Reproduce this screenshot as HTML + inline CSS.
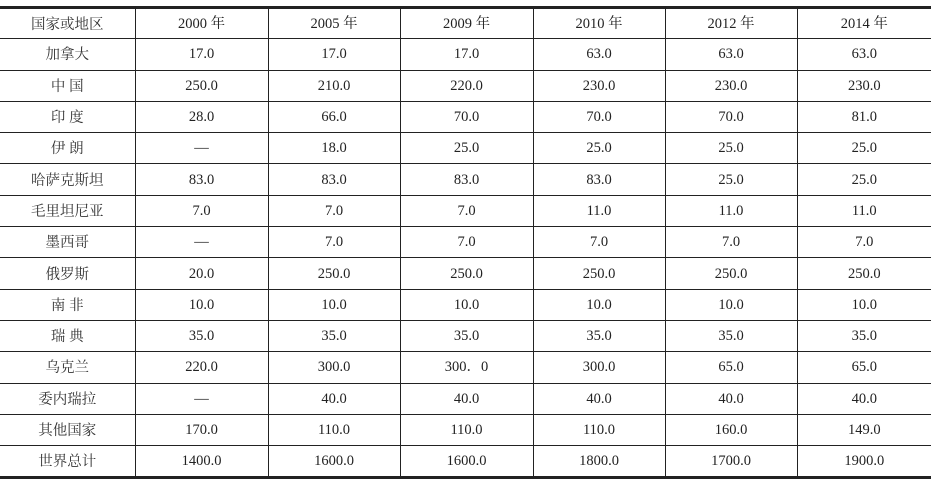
<!DOCTYPE html>
<html><head><meta charset="utf-8"><style>
html,body{margin:0;padding:0;background:#fff;width:931px;height:481px;overflow:hidden}
table{position:absolute;left:0;top:6px;width:931px;border-collapse:collapse;table-layout:fixed;
font-family:"Liberation Serif","Noto Serif CJK SC",serif;font-size:14.5px;color:#222}
td{height:30.3px;border:1px solid #222;text-align:center;padding:0;line-height:14px}
tr:first-child td{border-top:3px solid #222;height:29.3px}
tr:last-child td{border-bottom:3px solid #222}
td:first-child{border-left:none}
td:last-child{border-right:none}
.c{font-family:"Noto Serif CJK SC",serif;font-size:14.5px;color:#333}
</style></head><body>
<table>
<colgroup><col style="width:135px"><col style="width:133px"><col style="width:132px"><col style="width:133px"><col style="width:132px"><col style="width:132px"><col></colgroup>
<tr><td class="c">国家或地区</td><td>2000 年</td><td>2005 年</td><td>2009 年</td><td>2010 年</td><td>2012 年</td><td>2014 年</td></tr>
<tr><td class="c">加拿大</td><td>17.0</td><td>17.0</td><td>17.0</td><td>63.0</td><td>63.0</td><td>63.0</td></tr>
<tr><td class="c">中 国</td><td>250.0</td><td>210.0</td><td>220.0</td><td>230.0</td><td>230.0</td><td>230.0</td></tr>
<tr><td class="c">印 度</td><td>28.0</td><td>66.0</td><td>70.0</td><td>70.0</td><td>70.0</td><td>81.0</td></tr>
<tr><td class="c">伊 朗</td><td>—</td><td>18.0</td><td>25.0</td><td>25.0</td><td>25.0</td><td>25.0</td></tr>
<tr><td class="c">哈萨克斯坦</td><td>83.0</td><td>83.0</td><td>83.0</td><td>83.0</td><td>25.0</td><td>25.0</td></tr>
<tr><td class="c">毛里坦尼亚</td><td>7.0</td><td>7.0</td><td>7.0</td><td>11.0</td><td>11.0</td><td>11.0</td></tr>
<tr><td class="c">墨西哥</td><td>—</td><td>7.0</td><td>7.0</td><td>7.0</td><td>7.0</td><td>7.0</td></tr>
<tr><td class="c">俄罗斯</td><td>20.0</td><td>250.0</td><td>250.0</td><td>250.0</td><td>250.0</td><td>250.0</td></tr>
<tr><td class="c">南 非</td><td>10.0</td><td>10.0</td><td>10.0</td><td>10.0</td><td>10.0</td><td>10.0</td></tr>
<tr><td class="c">瑞 典</td><td>35.0</td><td>35.0</td><td>35.0</td><td>35.0</td><td>35.0</td><td>35.0</td></tr>
<tr><td class="c">乌克兰</td><td>220.0</td><td>300.0</td><td>300．0</td><td>300.0</td><td>65.0</td><td>65.0</td></tr>
<tr><td class="c">委内瑞拉</td><td>—</td><td>40.0</td><td>40.0</td><td>40.0</td><td>40.0</td><td>40.0</td></tr>
<tr><td class="c">其他国家</td><td>170.0</td><td>110.0</td><td>110.0</td><td>110.0</td><td>160.0</td><td>149.0</td></tr>
<tr><td class="c">世界总计</td><td>1400.0</td><td>1600.0</td><td>1600.0</td><td>1800.0</td><td>1700.0</td><td>1900.0</td></tr>
</table>
</body></html>
